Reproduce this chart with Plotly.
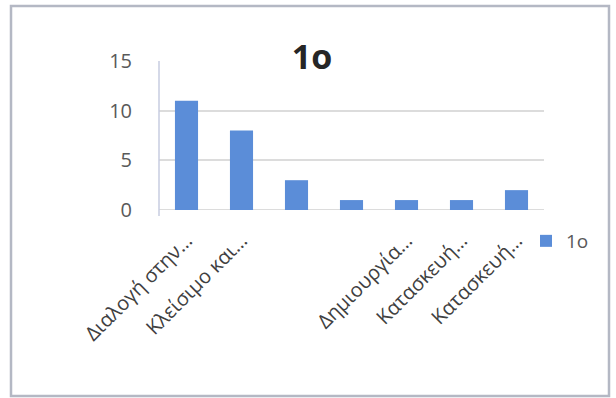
import plotly.graph_objects as go

series_name = "1ο"
chart_title = "1ο"
category_index = [0, 1, 2, 3, 4, 5, 6]
tick_labels = ["Διαλογή στην…", "Κλείσιμο και…", "", "", "Δημιουργία…", "Κατασκευή…", "Κατασκευή…"]
values = [11, 8, 3, 1, 1, 1, 2]
y_ticks = [0, 5, 10, 15]

W, H = 616, 398
L, R, T, B = 159, 72, 61, 188
pw, ph = W - L - R, H - T - B

def px_x(x):
    return (x - L) / pw

def px_y(y):
    return (H - B - y) / ph

fig = go.Figure()
fig.add_trace(go.Bar(
    x=category_index, y=values, name=series_name,
    marker=dict(color="#5b8dd8", line=dict(width=0)),
    showlegend=True,
))

fig.update_layout(
    width=W, height=H,
    margin=dict(l=L, r=R, t=T, b=B, pad=0, autoexpand=False),
    paper_bgcolor="white", plot_bgcolor="white",
    bargap=0.58,
    font=dict(family="Open Sans, sans-serif", color="#595959"),
    title=dict(text="<b>" + chart_title + "</b>", x=312 / W, xref="container", xanchor="center",
               y=1 - 57 / H, yref="container", yanchor="middle",
               font=dict(size=34, color="#262626", family="Open Sans, sans-serif")),
    xaxis=dict(
        tickmode="array", tickvals=category_index, ticktext=tick_labels,
        tickangle=-45, tickfont=dict(size=20, color="#404040"),
        range=[-0.5, 6.5], showgrid=False, zeroline=False, showline=False,
        ticks="", fixedrange=True, automargin=False, ticklabelstandoff=14,
    ),
    yaxis=dict(
        range=[0, 15], tickvals=y_ticks, tickfont=dict(size=20, color="#595959"),
        showgrid=True, gridcolor="#dcdcdc", gridwidth=2,
        zeroline=False, showline=False, ticks="", ticklabelstandoff=26,
        fixedrange=True, automargin=False,
    ),
    legend=dict(x=px_x(526), y=px_y(241), xanchor="left", yanchor="middle",
                font=dict(size=19, color="#595959"), bgcolor="rgba(0,0,0,0)",
                itemwidth=30),
    shapes=[
        dict(type="line", xref="paper", yref="paper", x0=0, x1=0,
             y0=px_y(216), y1=1, line=dict(color="#c7cde0", width=1.5)),
        dict(type="line", xref="paper", yref="y", x0=0, x1=1, y0=0, y1=0,
             line=dict(color="#dcdcdc", width=2), layer="below"),
        dict(type="rect", xref="paper", yref="paper",
             x0=px_x(11), x1=px_x(609), y0=px_y(396), y1=px_y(6),
             line=dict(color="#b4b8c4", width=2.5), fillcolor="rgba(0,0,0,0)"),
    ],
)

fig.write_html("out.html", config={"displayModeBar": False},
               post_script="document.body.style.margin='0';document.body.style.overflow='hidden';")
